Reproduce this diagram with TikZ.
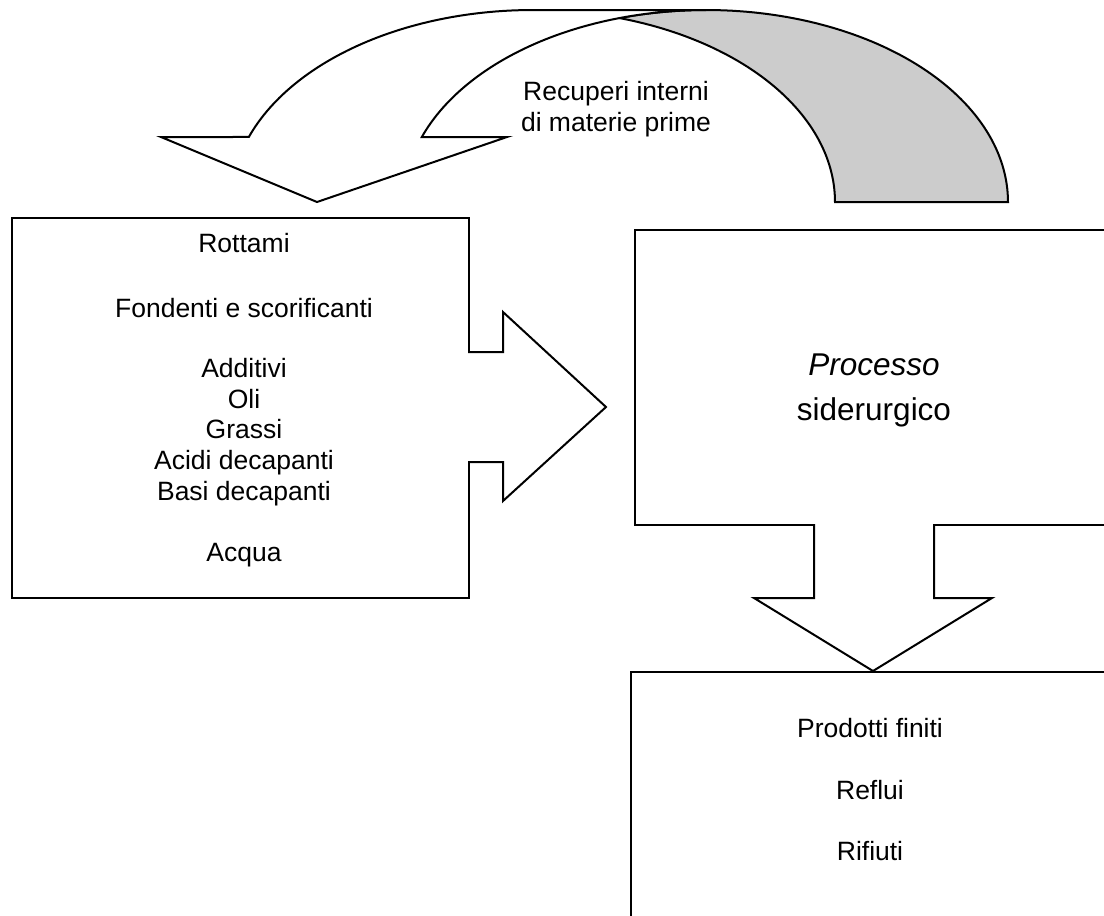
\documentclass[tikz,border=0pt]{standalone}
\usepackage{fontspec}
\setmainfont{Liberation Sans}
\definecolor{backgray}{RGB}{204,204,204}
\begin{document}
\begin{tikzpicture}[x=0.5pt,y=-0.5pt, line width=1pt, line join=miter,
  box/.style={draw=black, fill=white, rectangle, inner sep=0pt, anchor=north west},
  lbl/.style={anchor=base, inner sep=0pt, font=\fontsize{13.25pt}{15.35pt}\selectfont},
  biglbl/.style={anchor=base, inner sep=0pt, font=\fontsize{15.75pt}{22.5pt}\selectfont},
]
\useasboundingbox (0,0) rectangle (1104,916);
\clip (0,0) rectangle (1104,916);

% boxes
\node[box, minimum width=228.5pt, minimum height=190pt] (inputs) at (11,217) {};
\node[box, minimum width=250pt, minimum height=147.5pt] (process) at (634,229) {};
\node[box, minimum width=250pt, minimum height=140pt] (outputs) at (630,671) {};

% block arrow: inputs -> process
\fill[white] (465,353) -- (503,353) -- (503,312) -- (606,407) -- (503,501) -- (503,461) -- (465,461) -- cycle;
\draw (468,352) -- (503,352) -- (503,312) -- (606,407) -- (503,501) -- (503,462) -- (468,462);

% block arrow: process -> outputs
\fill[white] (815,521) -- (815,598) -- (754,598) -- (873,671) -- (992,598) -- (933,598) -- (933,521) -- cycle;
\draw (814,524) -- (814,598) -- (754,598) -- (873,671) -- (992,598) -- (934,598) -- (934,524);

% curved return arrow: shaded back of the band
\draw[fill=backgray]
  plot[domain=0:106.64, samples=80] ({706+302*cos(\x)},{202-192*sin(\x)})
  -- plot[domain=73.36:0, samples=60] ({533+302*cos(\x)},{202-192*sin(\x)})
  -- cycle;
% front of the band with arrow head
\draw[fill=white]
  plot[domain=90:160.21, samples=60] ({533+302*cos(\x)},{202-192*sin(\x)})
  -- (161,137) -- (317,202) -- (507,137)
  -- plot[domain=160.21:90, samples=60] ({706+302*cos(\x)},{202-192*sin(\x)})
  -- cycle;

% labels
\node[lbl] (rec1) at (616,100) {Recuperi interni};
\node[lbl] (rec2) at (616,131) {di materie prime};

\node[lbl] (in1) at (244,252.3) {Rottami};
\node[lbl] (in2) at (244,317.3) {Fondenti e scorificanti};
\node[lbl] (in3) at (244,377.7) {Additivi};
\node[lbl] (in4) at (244,408.7) {Oli};
\node[lbl] (in5) at (244,438.7) {Grassi};
\node[lbl] (in6) at (244,469.3) {Acidi decapanti};
\node[lbl] (in7) at (244,500) {Basi decapanti};
\node[lbl] (in8) at (244,561.7) {Acqua};

\node[biglbl] (pr1) at (874,375) {\itshape Processo};
\node[biglbl] (pr2) at (874,420) {siderurgico};

\node[lbl] (out1) at (870,737.3) {Prodotti finiti};
\node[lbl] (out2) at (870,799.3) {Reflui};
\node[lbl] (out3) at (870,860.7) {Rifiuti};
\end{tikzpicture}
\end{document}
